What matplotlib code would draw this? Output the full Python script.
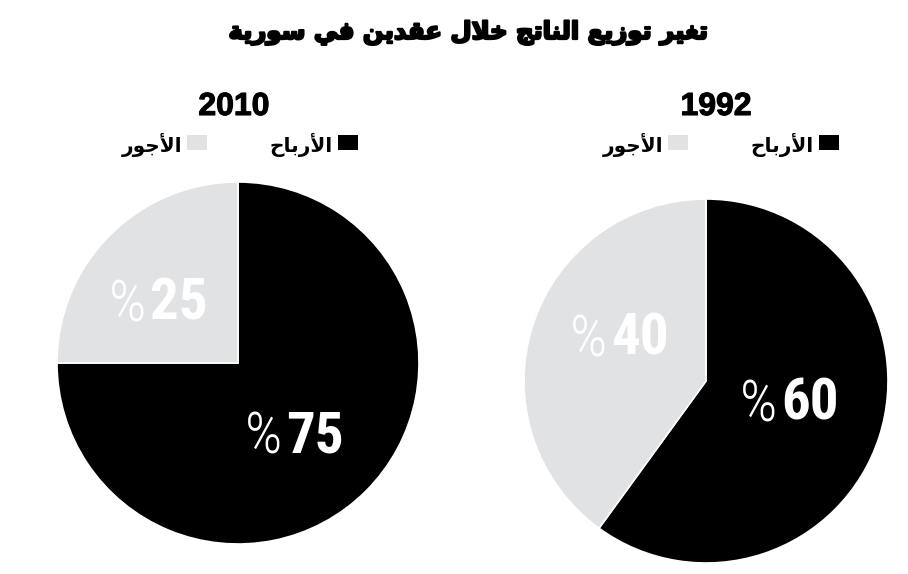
import matplotlib
matplotlib.use("Agg")
import matplotlib.pyplot as plt
import matplotlib.patheffects as pe
from matplotlib.patches import Rectangle

# chart data
title = "تغير توزيع الناتج خلال عقدين في سورية"
years = ["2010", "1992"]
profits = [75, 60]          # الأرباح
wages = [25, 40]            # الأجور
legend_labels = ["الأرباح", "الأجور"]
colors = ["#000000", "#e1e2e4"]

# arabic presentation forms: isolated, final, initial, medial
FORMS = {
    "\u0627": ("\uFE8D", "\uFE8E", None, None),
    "\u0623": ("\uFE83", "\uFE84", None, None),
    "\u0628": ("\uFE8F", "\uFE90", "\uFE91", "\uFE92"),
    "\u0629": ("\uFE93", "\uFE94", None, None),
    "\u062A": ("\uFE95", "\uFE96", "\uFE97", "\uFE98"),
    "\u062C": ("\uFE9D", "\uFE9E", "\uFE9F", "\uFEA0"),
    "\u062D": ("\uFEA1", "\uFEA2", "\uFEA3", "\uFEA4"),
    "\u062E": ("\uFEA5", "\uFEA6", "\uFEA7", "\uFEA8"),
    "\u062F": ("\uFEA9", "\uFEAA", None, None),
    "\u0631": ("\uFEAD", "\uFEAE", None, None),
    "\u0632": ("\uFEAF", "\uFEB0", None, None),
    "\u0633": ("\uFEB1", "\uFEB2", "\uFEB3", "\uFEB4"),
    "\u0639": ("\uFEC9", "\uFECA", "\uFECB", "\uFECC"),
    "\u063A": ("\uFECD", "\uFECE", "\uFECF", "\uFED0"),
    "\u0641": ("\uFED1", "\uFED2", "\uFED3", "\uFED4"),
    "\u0642": ("\uFED5", "\uFED6", "\uFED7", "\uFED8"),
    "\u0644": ("\uFEDD", "\uFEDE", "\uFEDF", "\uFEE0"),
    "\u0646": ("\uFEE5", "\uFEE6", "\uFEE7", "\uFEE8"),
    "\u0648": ("\uFEED", "\uFEEE", None, None),
    "\u064A": ("\uFEF1", "\uFEF2", "\uFEF3", "\uFEF4"),
}
LAMALEF = {"\u0627": ("\uFEFB", "\uFEFC"), "\u0623": ("\uFEF7", "\uFEF8")}


def shape(text):
    # join letters then flip to visual order (matplotlib has no bidi)
    out = []
    chars = list(text)
    i = 0
    prev_joins = False
    while i < len(chars):
        c = chars[i]
        if c not in FORMS:
            out.append(c)
            prev_joins = False
            i += 1
            continue
        nxt = chars[i + 1] if i + 1 < len(chars) else None
        if c == "\u0644" and nxt in LAMALEF:
            out.append(LAMALEF[nxt][1 if prev_joins else 0])
            prev_joins = False
            i += 2
            continue
        f = FORMS[c]
        joins_next = f[2] is not None and nxt in FORMS
        if prev_joins and joins_next:
            g = f[3]
        elif prev_joins:
            g = f[1]
        elif joins_next:
            g = f[2]
        else:
            g = f[0]
        out.append(g)
        prev_joins = joins_next
        i += 1
    return "".join(out)[::-1]


W, H = 908, 574
fig = plt.figure(figsize=(W / 100, H / 100), dpi=100)

def fx(px):
    return px / W

def fy(py):
    return 1 - py / H

num_font = ["Roboto Condensed", "Liberation Sans", "DejaVu Sans"]
pct_font = ["Roboto Condensed", "Roboto", "DejaVu Sans"]
year_font = ["Liberation Sans", "DejaVu Sans"]

t = fig.text(fx(468), fy(33), shape(title), ha="center", va="center",
             fontsize=17.5, fontweight="bold", family="DejaVu Sans")
t.set_path_effects([pe.Stroke(linewidth=1.6, foreground="black"), pe.Normal()])

# pie geometry in pixels: centre x, centre y, radius
pies = [(238, 363, 181), (706, 381, 182)]
# label anchor (between % and number, on the baseline), radius units
label_pos = [[(-0.503, 0.238), (0.249, -0.492)],
             [(-0.538, 0.143), (0.396, -0.214)]]
year_x = [234, 716]
legend_x = [358, 839]   # right edge of the profits square

for k in range(2):
    cx, cy, r = pies[k]
    pad = 1.03
    ax = fig.add_axes([fx(cx - r * pad), fy(cy + r * pad),
                       2 * r * pad / W, 2 * r * pad / H])
    ax.pie([profits[k], wages[k]], colors=colors, startangle=90,
           counterclock=False,
           wedgeprops=dict(edgecolor="white", linewidth=1.2))
    ax.set_xlim(-pad, pad)
    ax.set_ylim(-pad, pad)
    ax.set_aspect("equal")
    ax.axis("off")

    vals = [wages[k], profits[k]]
    for (lx, ly), v in zip(label_pos[k], vals):
        ax.text(lx + 0.015, ly, str(v), ha="left", va="baseline",
                color="white", fontsize=41, fontweight="bold",
                family=num_font)
        ax.text(lx - 0.005, ly - 0.01, "%", ha="right", va="baseline",
                color="white", fontsize=42, fontweight="light",
                family=pct_font)

    # year
    yt = fig.text(fx(year_x[k]), fy(115), years[k], ha="center",
                  va="baseline", fontsize=23, fontweight="bold",
                  family=year_font)
    yt.set_path_effects([pe.Stroke(linewidth=0.8, foreground="black"),
                         pe.Normal()])

    # legend: square on the right of each label (right to left)
    sq_w, sq_h = 20, 15
    x0 = legend_x[k]
    for j, lab in enumerate(legend_labels):
        right = x0 - j * 151
        fig.patches.append(Rectangle((fx(right - sq_w), fy(150)),
                                     sq_w / W, sq_h / H,
                                     transform=fig.transFigure,
                                     facecolor=colors[j], edgecolor="none"))
        fig.text(fx(right - sq_w - 5), fy(145), shape(lab), ha="right",
                 va="center", fontsize=14.5, fontweight="bold",
                 family="DejaVu Sans")

fig.savefig("out.png", dpi=100, facecolor="white")
